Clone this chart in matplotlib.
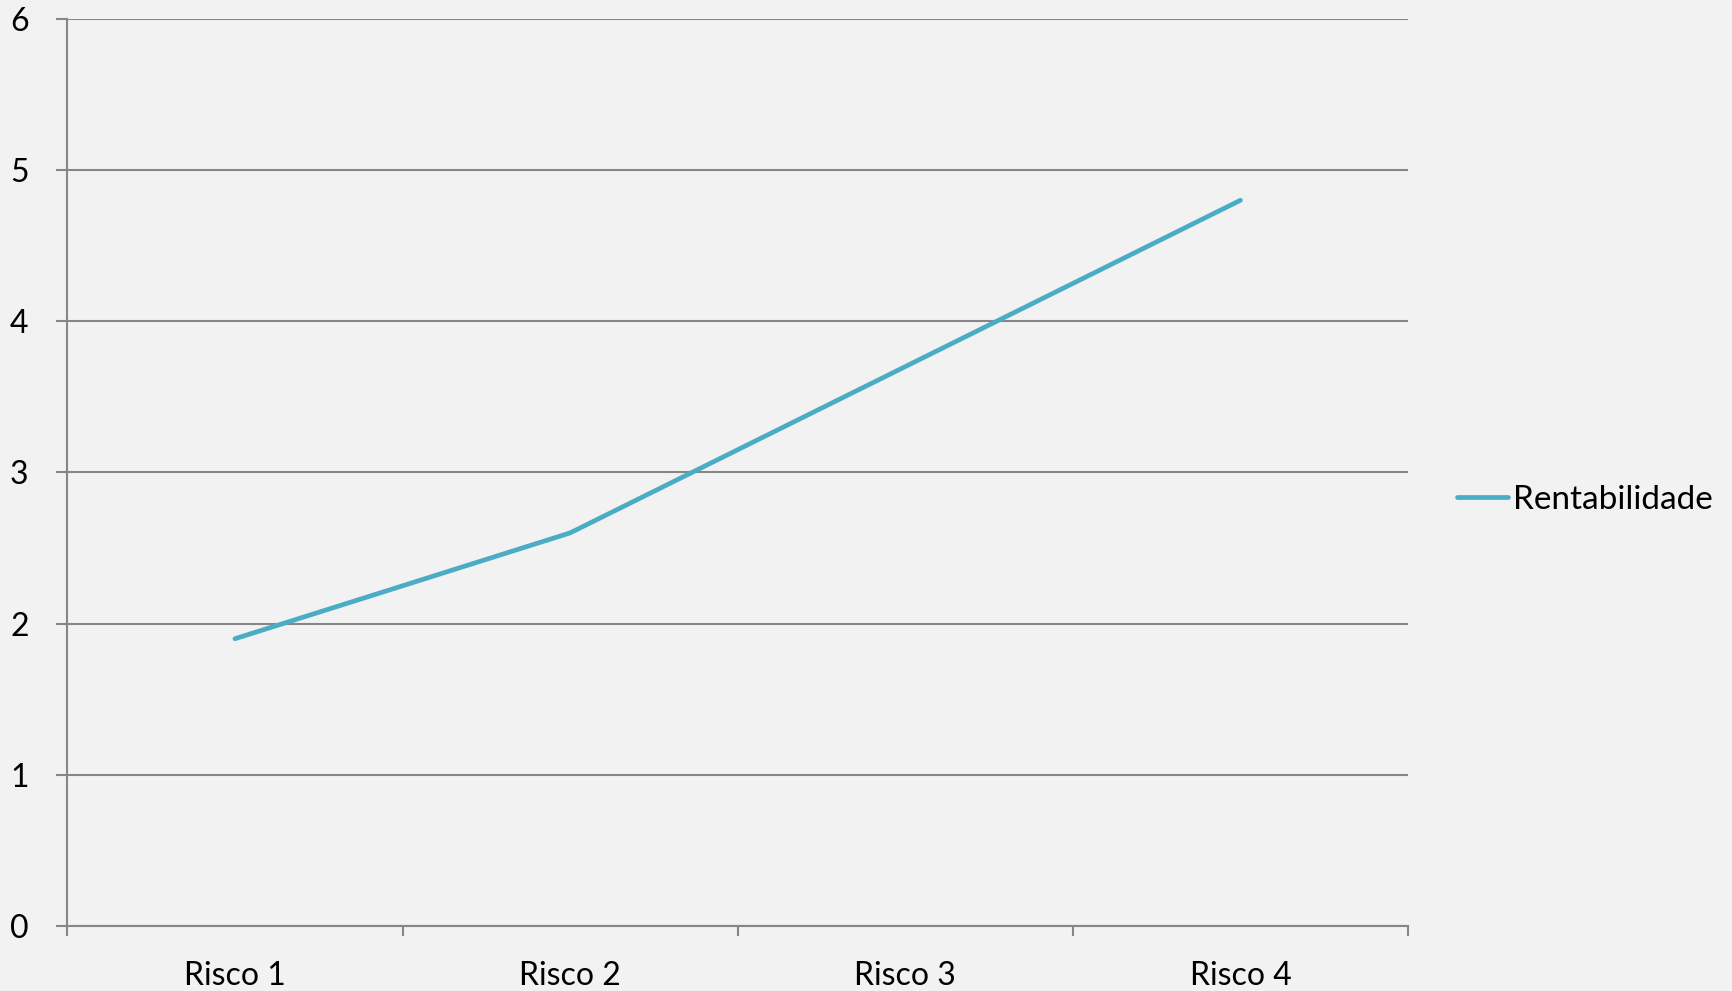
import numpy as np
from matplotlib import pyplot as plt

categorias = ['Risco 1', 'Risco 2', 'Risco 3', 'Risco 4']
rentabilidade = [1.9, 2.6, 3.7, 4.8]

plt.rcParams['font.family'] = ['Lato', 'DejaVu Sans']

fig = plt.figure(figsize=(17.33, 9.91), dpi=100, facecolor='#f2f2f2')
ax = fig.add_axes([0.0389, 0.0656, 0.7736, 0.9154], facecolor='#f2f2f2')

x = np.arange(len(categorias))
ax.plot(x, rentabilidade, color='#4bacc6', lw=3.4, solid_capstyle='round',
        label='Rentabilidade')

ax.set_xlim(-0.5, len(categorias) - 0.5)
ax.set_ylim(0, 6)
ax.set_yticks(range(0, 7))
ax.yaxis.grid(True, color='#868686', lw=1.5)
ax.set_axisbelow(True)

ax.set_xticks(x)
ax.set_xticklabels(categorias, fontsize=23)
ax.set_xticks(np.arange(-0.5, len(categorias)), minor=True)
ax.tick_params(axis='x', which='major', length=0, pad=25)
ax.tick_params(axis='x', which='minor', length=7, width=1.5, color='#868686')
ax.tick_params(axis='y', length=8, width=1.5, color='#868686', labelsize=23, pad=20)

for s in ['top', 'right']:
    ax.spines[s].set_visible(False)
for s in ['left', 'bottom']:
    ax.spines[s].set_color('#868686')
    ax.spines[s].set_linewidth(1.5)

ax.legend(loc='center left', bbox_to_anchor=(1.014, 0.47), frameon=False,
          fontsize=24, handlelength=1.55, handletextpad=0.15)

fig.savefig('out.png', dpi=100, facecolor='#f2f2f2')
